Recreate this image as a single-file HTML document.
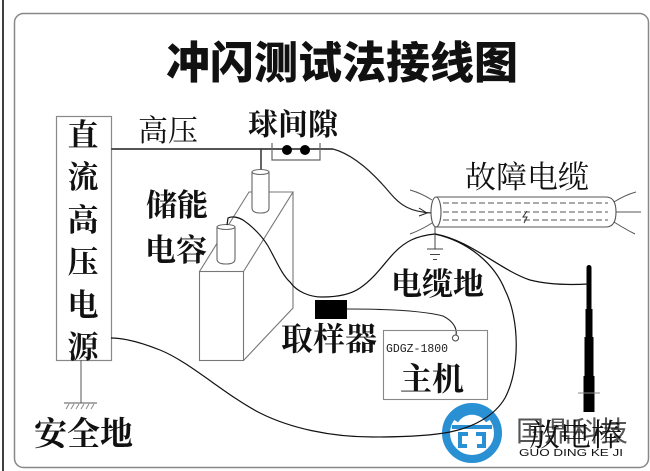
<!DOCTYPE html>
<html><head><meta charset="utf-8"><style>
html,body{margin:0;padding:0;background:#fff;}
svg{display:block;}
.t{font-family:"Liberation Serif","Noto Serif CJK SC",serif;font-weight:700;fill:#111;}
</style></head><body>
<svg width="650" height="471" viewBox="0 0 650 471" xmlns="http://www.w3.org/2000/svg">
<rect width="650" height="471" fill="#fff"/>
<line x1="3" y1="0" x2="3" y2="471" stroke="#000" stroke-width="1.5"/>
<rect x="14.5" y="13.5" width="634" height="454" rx="9" fill="none" stroke="#888" stroke-width="1.5"/>

<text class="t" x="166" y="78" font-size="44" font-weight="900" style="font-family:'Liberation Sans','Noto Sans CJK SC',sans-serif;font-weight:900">冲闪测试法接线图</text>

<rect x="56.5" y="116.5" width="55" height="244" fill="none" stroke="#888" stroke-width="1.2"/>
<g class="t" font-size="31" text-anchor="middle">
<text x="83" y="146">直</text>
<text x="83" y="188">流</text>
<text x="83" y="231">高</text>
<text x="83" y="273">压</text>
<text x="83" y="316">电</text>
<text x="83" y="358">源</text>
</g>

<text class="t" x="138" y="141" font-size="30" style="font-weight:400">高压</text>
<text class="t" x="248" y="135" font-size="30">球间隙</text>
<text class="t" x="146" y="216" font-size="31">储能</text>
<text class="t" x="145" y="261" font-size="31">电容</text>
<text class="t" x="465" y="188" font-size="31" style="font-weight:400">故障电缆</text>
<text class="t" x="391" y="295" font-size="31">电缆地</text>
<text class="t" x="281" y="350" font-size="32">取样器</text>
<text class="t" x="400" y="390" font-size="32">主机</text>
<text class="t" x="34" y="445" font-size="33">安全地</text>

<!-- main HV line -->
<line x1="111" y1="149" x2="333" y2="149" stroke="#555" stroke-width="2"/>
<!-- ball gap -->
<path d="M272,143 L272,160 L320,160 L320,143" fill="none" stroke="#666" stroke-width="1.2"/>
<circle cx="287" cy="150" r="5" fill="#000"/>
<circle cx="305" cy="150" r="5" fill="#000"/>
<!-- wire to cable -->
<path d="M333,149 C355,155 375,175 390,193 C400,205 410,212 432,213" fill="none" stroke="#222" stroke-width="1.2"/>
<path d="M419,208 L427,213 L419,216" fill="none" stroke="#222" stroke-width="1"/>

<!-- capacitor box -->
<g fill="none" stroke="#777" stroke-width="1.1">
<rect x="199.5" y="271.5" width="44" height="89"/>
<path d="M199.5,271.5 L249,192 L293,192 L243.5,271.5"/>
<path d="M293,192 L293,308 L243.5,360.5"/>
</g>
<line x1="261" y1="149" x2="261" y2="171" stroke="#333" stroke-width="1.5"/>
<path d="M252,172 L252,208 Q252,213 260.5,213 Q269,213 269,208 L269,172 Z" fill="#fff" stroke="#666" stroke-width="1.1"/>
<ellipse cx="260.5" cy="172" rx="8.5" ry="2.5" fill="#fff" stroke="#666" stroke-width="1.1"/>
<path d="M217,227 L217,259 Q217,264 226,264 Q235,264 235,259 L235,227 Z" fill="#fff" stroke="#666" stroke-width="1.1"/>
<ellipse cx="226" cy="227" rx="9" ry="2.5" fill="#fff" stroke="#666" stroke-width="1.1"/>
<!-- capacitor wire to cable ground -->
<path d="M227,225 L228,218 C232,216 238,217 243,220 C252,226 262,236 268,246 C276,260 282,275 290,282 C297,292 310,297 322,297 C335,297 350,295 360,288 C375,278 385,262 395,252 C405,242 415,236 435,234" fill="none" stroke="#111" stroke-width="1.2"/>

<!-- cable -->
<path d="M436,197 L606,197 Q616,197 616,212 Q616,227 606,227 L436,227" fill="#fff" stroke="#555" stroke-width="1.1"/>
<ellipse cx="436" cy="212" rx="5" ry="15" fill="#fff" stroke="#555" stroke-width="1.1"/>
<g stroke="#555" stroke-width="1" stroke-dasharray="6,3">
<line x1="443" y1="203" x2="608" y2="203"/>
<line x1="443" y1="212" x2="608" y2="212"/>
<line x1="443" y1="220" x2="608" y2="220"/>
</g>
<path d="M527,211 L523,217 L527,217 L524,223" fill="none" stroke="#333" stroke-width="1"/>
<g fill="none" stroke="#555" stroke-width="1">
<path d="M432,200 Q421,193 410,190"/>
<path d="M432,223 Q421,230 410,234"/>
<path d="M614,202 Q625,195 636,192"/>
<path d="M616,212 L641,212"/>
<path d="M614,222 Q625,229 635,234"/>
</g>
<!-- cable ground -->
<g stroke="#444" stroke-width="1">
<line x1="435" y1="227" x2="435" y2="249"/>
<line x1="427" y1="249" x2="443" y2="249"/>
<line x1="430" y1="254.5" x2="440" y2="254.5"/>
<line x1="433" y1="259.5" x2="437" y2="259.5"/>
</g>

<!-- sampler -->
<rect x="315" y="300" width="32" height="19" fill="#000"/>
<path d="M347,309 C380,309 420,310 443,316 C455,322 457,330 456,335" fill="none" stroke="#222" stroke-width="1.1"/>
<circle cx="455.5" cy="338" r="3" fill="none" stroke="#444" stroke-width="1"/>
<!-- host -->
<rect x="383.5" y="330.5" width="104" height="69" fill="none" stroke="#888" stroke-width="1.1"/>
<text x="386" y="352" font-size="12" textLength="62" lengthAdjust="spacingAndGlyphs" style="font-family:'Liberation Mono',monospace;fill:#222">GDGZ-1800</text>

<!-- source ground -->
<g stroke="#555" stroke-width="1">
<line x1="81" y1="360" x2="81" y2="403"/>
<line x1="64" y1="403" x2="97" y2="403"/>
<path d="M66,409 L69,404 M71,409 L74,404 M76,409 L79,404 M81,409 L84,404 M86,409 L89,404 M91,409 L94,404" stroke="#888"/>
</g>

<!-- rod -->
<g fill="#000">
<rect x="586.5" y="265" width="5" height="46" rx="2.5"/>
<rect x="585.5" y="309" width="7" height="30"/>
<rect x="584.5" y="337" width="9" height="41"/>
<rect x="583.5" y="376" width="11" height="36"/>
</g>
<line x1="578" y1="393" x2="600" y2="393" stroke="#888" stroke-width="1"/>
<path d="M435,234 C470,240 500,270 530,280 C550,285 570,285 588,284" fill="none" stroke="#111" stroke-width="1.2"/>

<!-- logo -->
<g fill="none" stroke="#2a90d4">
<circle cx="472" cy="433" r="26" stroke-width="8"/>
<path d="M456,421 A19,19 0 0 1 488,421" stroke-width="5"/>
</g>
<g fill="#2a90d4">
<rect x="452" y="425" width="40" height="4"/>
<path d="M458,432 h10 v4 h-6 v8 h5 v4 h-9 z"/>
<path d="M486,432 h-10 v4 h6 v8 h-5 v4 h9 z"/>
</g>
<text x="516" y="441" font-size="28" style="font-family:'Liberation Sans','Noto Sans CJK SC',sans-serif;fill:#555">国鼎科技</text>
<text class="t" x="529" y="446" font-size="31" style="font-weight:400;fill:#111">放电棒</text>
<text x="519" y="456" font-size="10" textLength="104" lengthAdjust="spacingAndGlyphs" style="font-family:'Liberation Sans',sans-serif;fill:#111">GUO DING KE JI</text>

<!-- long loop from source to cable ground -->
<path d="M111,338 C125,338 140,342 160,350 C190,362 225,395 260,413 C290,428 330,437 373,437 C400,437 430,436 450,432 C475,427 495,415 505,398 C520,370 520,320 505,290 C495,265 470,242 435,234" fill="none" stroke="#111" stroke-width="1.2"/>
</svg>
</body></html>
